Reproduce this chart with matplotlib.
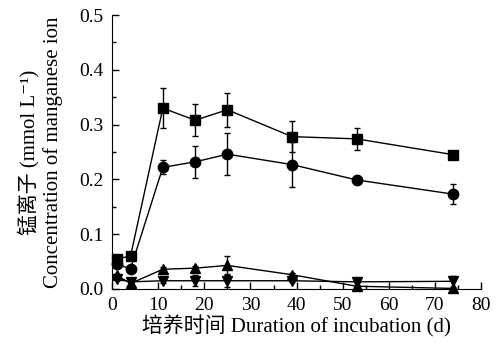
import matplotlib.pyplot as plt
import numpy as np

plt.rcParams['font.family'] = ['Liberation Serif', 'DejaVu Serif', 'Noto Sans CJK SC']

# Données
jours = [1, 4, 11, 18, 25, 39, 53, 74]

carre = [0.055, 0.060, 0.330, 0.308, 0.327, 0.278, 0.274, 0.245]
carre_err = [0.005, 0.005, 0.037, 0.029, 0.031, 0.028, 0.020, 0.006]

cercle = [0.045, 0.037, 0.222, 0.232, 0.246, 0.227, 0.199, 0.173]
cercle_err = [0.005, 0.004, 0.013, 0.029, 0.038, 0.041, 0.005, 0.018]

tri_haut = [0.025, 0.010, 0.036, 0.038, 0.043, 0.026, 0.005, 0.001]
tri_haut_err = [0.003, 0.002, 0.005, 0.004, 0.017, 0.004, 0.002, 0.001]

tri_bas = [0.018, 0.013, 0.015, 0.015, 0.015, 0.015, 0.013, 0.014]
tri_bas_err = [0.002, 0.002, 0.004, 0.010, 0.012, 0.003, 0.002, 0.010]

fig = plt.figure(figsize=(4.96, 3.49), dpi=100)
ax = fig.add_axes([0.226, 0.172, 0.744, 0.785])

series = [(carre, carre_err, 's', 7), (cercle, cercle_err, 'o', 7.5),
          (tri_haut, tri_haut_err, '^', 7.5), (tri_bas, tri_bas_err, 'v', 7.5)]
for y, e, m, ms in series:
    ax.errorbar(jours, y, yerr=e, color='black', marker=m, markersize=ms,
                linewidth=1, elinewidth=1, capsize=2.5, capthick=1, clip_on=False)

ax.set_xlim(0, 80)
ax.set_ylim(0, 0.5)
ax.set_xticks(np.arange(0, 81, 10))
ax.set_xticks(np.arange(0, 81, 5), minor=True)
ax.set_yticks(np.arange(0, 0.51, 0.1))
ax.set_yticks(np.arange(0, 0.51, 0.05), minor=True)
ax.set_yticklabels([f'{v:.1f}' for v in np.arange(0, 0.51, 0.1)])
ax.tick_params(which='both', direction='in', labelsize=14, width=1, pad=6)
ax.tick_params(which='major', length=5)
ax.tick_params(which='minor', length=3)
ax.spines['top'].set_visible(False)
ax.spines['right'].set_visible(False)

ax.set_xlabel('培养时间 Duration of incubation (d)', fontsize=15, labelpad=1)
ax.set_ylabel('锰离子 (mmol L⁻¹)\nConcentration of manganese ion',
              fontsize=15, labelpad=12, linespacing=1.2)

plt.savefig('out.png', dpi=100)
